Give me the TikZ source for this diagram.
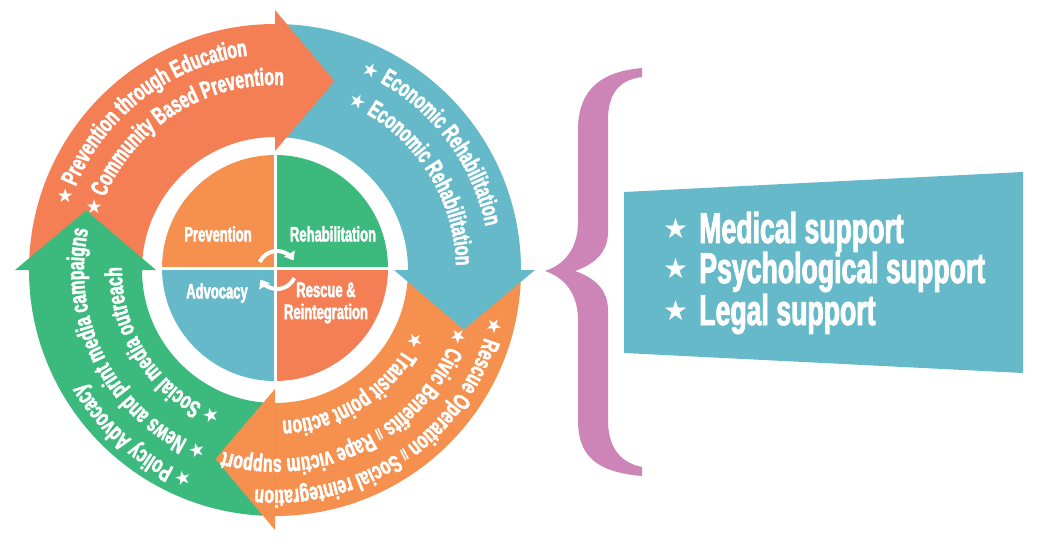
\documentclass[tikz,border=0pt]{standalone}
\usepackage{fontspec}
\usetikzlibrary{decorations.text,arrows.meta}
\newfontfamily\condfont{Liberation Sans Bold}[FakeStretch=0.62,FakeBold=2]
\newfontfamily\bandfont{Liberation Sans Bold}[FakeStretch=0.65,FakeBold=2]
\newfontfamily\starfont{DejaVu Sans}
\newcommand\bandfnt{\bandfont\fontsize{24.3}{26}\selectfont}
\newcommand\bandstar{\starfont\fontsize{19}{20}\selectfont}
\newcommand\bandsep{\bandfont\fontsize{15}{16}\selectfont}
\newcommand\panelstar{\raisebox{5pt}{\starfont\fontsize{28}{28}\selectfont ★}\hspace{11pt}}
\begin{document}
\begin{tikzpicture}[x=1pt,y=1pt,
  bandtext/.style={decorate,decoration={text along path,text color=white,text align=left,text={#1}}},
  pielabel/.style={text=white,font=\condfont\fontsize{21}{22}\selectfont,align=center,inner sep=0pt},
  paneltext/.style={text=white,font=\condfont\fontsize{43}{44}\selectfont,anchor=base west,inner sep=0pt},
  cyclearrow/.style={white,line width=4pt,-{Triangle[length=8pt,width=12pt]}}]
\definecolor{orangeA}{HTML}{F47F55}\definecolor{orangeB}{HTML}{F6904E}
\definecolor{tealC}{HTML}{65B9C9}\definecolor{greenD}{HTML}{3CB97D}
\definecolor{pinkE}{HTML}{CD84B7}
\useasboundingbox (-275,-280) rectangle (768,270);
\fill[orangeA] (180:133) arc[start angle=180,end angle=90,radius=133] -- (90:246) arc[start angle=90,end angle=180,radius=246] -- cycle;
\fill[tealC] (90:133) arc[start angle=90,end angle=0,radius=133] -- (0:246) arc[start angle=0,end angle=90,radius=246] -- cycle;
\fill[orangeB] (0:133) arc[start angle=0,end angle=-90,radius=133] -- (-90:246) arc[start angle=-90,end angle=0,radius=246] -- cycle;
\fill[greenD] (-90:133) arc[start angle=-90,end angle=-180,radius=133] -- (-180:246) arc[start angle=-180,end angle=-90,radius=246] -- cycle;
\fill[orangeA] (90:119) -- (72.5:198) -- (90:260) -- cycle;
\fill[tealC] (0:119) -- (-17.5:198) -- (0:260) -- cycle;
\fill[orangeB] (-90:119) -- (-107.5:198) -- (-90:260) -- cycle;
\fill[greenD] (180:119) -- (162.5:198) -- (180:260) -- cycle;
\path[bandtext={|\bandstar|★|\bandfnt| Prevention through Education}] (163:216) arc[start angle=163,end angle=60,radius=216];
\path[bandtext={|\bandstar|★|\bandfnt| Community Based Prevention}] (163.5:185) arc[start angle=163.5,end angle=60,radius=185];
\path[bandtext={|\bandstar|★|\bandfnt| Economic Rehabilitation}] (66.5:215) arc[start angle=66.5,end angle=-20,radius=215];
\path[bandtext={|\bandstar|★|\bandfnt| Economic Rehabilitation}] (66.5:181) arc[start angle=66.5,end angle=-20,radius=181];
\path[bandtext={|\bandstar|★|\bandfnt| Rescue Operation |\bandsep|//|\bandfnt| Social reintegration}] (-12.3:220) arc[start angle=-12.3,end angle=-130,radius=220];
\path[bandtext={|\bandstar|★|\bandfnt| Civic Benefits |\bandsep|//|\bandfnt| Rape victim support}] (-17.3:189) arc[start angle=-17.3,end angle=-130,radius=189];
\path[bandtext={|\bandstar|★|\bandfnt| Transit point action}] (-23.6:151) arc[start angle=-23.6,end angle=-120,radius=151];
\path[bandtext={|\bandstar|★|\bandfnt| Policy Advocacy}] (-111.5:222) arc[start angle=-111.5,end angle=-200,radius=222];
\path[bandtext={|\bandstar|★|\bandfnt| News and print media campaigns}] (-110.8:191) arc[start angle=-110.8,end angle=-220,radius=191];
\path[bandtext={|\bandstar|★|\bandfnt| Social media outreach}] (-110.3:153) arc[start angle=-110.3,end angle=-220,radius=153];
\begin{scope}[shift={(0,2)}]
\fill[orangeB] (0,0) -- (180:113) arc[start angle=180,end angle=90,radius=113] -- cycle;
\fill[greenD] (0,0) -- (90:113) arc[start angle=90,end angle=0,radius=113] -- cycle;
\fill[orangeA] (0,0) -- (0:113) arc[start angle=0,end angle=-90,radius=113] -- cycle;
\fill[tealC] (0,0) -- (-90:113) arc[start angle=-90,end angle=-180,radius=113] -- cycle;
\draw[white,line width=3pt] (-115,0) -- (115,0) (0,-115) -- (0,115);
\end{scope}
\draw[cyclearrow] ([shift={(2,0)}]155:19) arc[start angle=155,end angle=30,radius=19];
\draw[cyclearrow] ([shift={(2,0)}]-25:19) arc[start angle=-25,end angle=-150,radius=19];
\node[pielabel] (prevention) at (-57,36) {Prevention};
\node[pielabel] (rehab) at (58,36) {Rehabilitation};
\node[pielabel] (advocacy) at (-58,-23) {Advocacy};
\node[pielabel] (rescue) at (51,-33) {Rescue \&\\Reintegration};
\fill[pinkE] (367,202) .. controls (320,198) and (303,175) .. (303,140) -- (303,48) .. controls (303,20) and (288,5) .. (270,-1) .. controls (288,-7) and (303,-22) .. (303,-50) -- (303,-150) .. controls (303,-185) and (320,-202) .. (367,-206) -- (367,-197) .. controls (343,-192) and (333,-175) .. (333,-150) -- (333,-40) .. controls (333,-20) and (320,-8) .. (300,-1) .. controls (320,6) and (333,18) .. (333,38) -- (333,150) .. controls (333,175) and (343,190) .. (367,193) -- cycle;
\fill[tealC] (349,78) -- (748,98) -- (748,-103) -- (349,-83) -- cycle;
\node[paneltext] (medical) at (388,27) {\panelstar Medical support};
\node[paneltext] (psych) at (388,-13) {\panelstar Psychological support};
\node[paneltext] (legal) at (388,-55) {\panelstar Legal support};
\end{tikzpicture}
\end{document}
